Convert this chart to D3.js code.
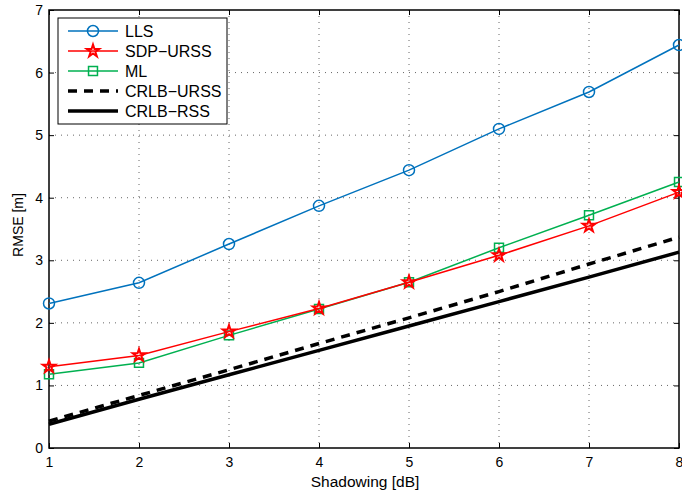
<!DOCTYPE html>
<html>
<head>
<meta charset="utf-8">
<script src="https://cdn.jsdelivr.net/npm/d3@7"></script>
<style>
    body { margin: 0; background: #fff; }
    svg { display: block; font-family: "Liberation Sans", Arial, sans-serif; }
    .grid line { stroke: #000; stroke-opacity: 0.6; stroke-dasharray: 1 5; }
</style>
</head>
<body>
<svg width="682" height="492"></svg>
<script>
    // dados
    var shadowing = [1, 2, 3, 4, 5, 6, 7, 8];
    var lls = [2.31, 2.64, 3.26, 3.87, 4.44, 5.10, 5.69, 6.44];
    var sdpUrss = [1.30, 1.48, 1.86, 2.23, 2.65, 3.08, 3.55, 4.09];
    var ml = [1.18, 1.36, 1.80, 2.22, 2.65, 3.20, 3.72, 4.25];
    var crlbUrss = [0.43, 0.84, 1.25, 1.67, 2.08, 2.50, 2.94, 3.37];
    var crlbRss = [0.38, 0.78, 1.17, 1.56, 1.95, 2.34, 2.73, 3.13];
    var yTicks = [0, 1, 2, 3, 4, 5, 6, 7];

    var series = [
        { name: "LLS", values: lls, color: "#0072bd", width: 1.5, dash: null, marker: "circle" },
        { name: "SDP\u2212URSS", values: sdpUrss, color: "#ff0000", width: 1.5, dash: null, marker: "star" },
        { name: "ML", values: ml, color: "#00b050", width: 1.5, dash: null, marker: "square" },
        { name: "CRLB\u2212URSS", values: crlbUrss, color: "#000", width: 3.5, dash: "9,7", marker: null },
        { name: "CRLB\u2212RSS", values: crlbRss, color: "#000", width: 3.5, dash: null, marker: null }
    ];

    var svg = d3.select("svg"),
        margin = { top: 10, right: 3, bottom: 44, left: 49 },
        width = 682 - margin.left - margin.right,
        height = 492 - margin.top - margin.bottom,
        g = svg.append("g").attr("transform", "translate(" + margin.left + "," + margin.top + ")");

    var x = d3.scaleLinear().domain([1, 8]).range([0, width]);
    var y = d3.scaleLinear().domain([0, 7]).range([height, 0]);

    // grade pontilhada
    var grid = g.append("g").attr("class", "grid");
    grid.selectAll(".gx").data(shadowing.slice(1, -1)).enter().append("line")
        .attr("x1", function (d) { return x(d); }).attr("x2", function (d) { return x(d); })
        .attr("y1", 0).attr("y2", height);
    grid.selectAll(".gy").data(yTicks.slice(1, -1)).enter().append("line")
        .attr("y1", function (d) { return y(d); }).attr("y2", function (d) { return y(d); })
        .attr("x1", 0).attr("x2", width);

    // eixos com marcas para dentro
    function estilo(sel) {
        sel.select(".domain").remove();
        sel.selectAll("text").style("font-size", "14px").attr("fill", "#000");
        sel.selectAll("line").attr("stroke", "#000");
    }
    g.append("g").attr("transform", "translate(0," + height + ")")
        .call(d3.axisBottom(x).tickValues(shadowing).tickFormat(d3.format("d")).tickSizeInner(-5).tickPadding(9))
        .call(estilo);
    g.append("g")
        .call(d3.axisLeft(y).tickValues(yTicks).tickFormat(d3.format("d")).tickSizeInner(-5).tickPadding(6))
        .call(estilo);
    g.append("g")
        .call(d3.axisTop(x).tickValues(shadowing).tickFormat("").tickSizeInner(-5))
        .call(estilo);
    g.append("g").attr("transform", "translate(" + width + ",0)")
        .call(d3.axisRight(y).tickValues(yTicks).tickFormat("").tickSizeInner(-5))
        .call(estilo);

    g.append("rect").attr("width", width).attr("height", height)
        .attr("fill", "none").attr("stroke", "#000").attr("stroke-width", 1.5);

    var line = d3.line()
        .x(function (d, i) { return x(shadowing[i]); })
        .y(function (d) { return y(d); });

    var simbolos = {
        circle: d3.symbol().type(d3.symbolCircle).size(95),
        star: d3.symbol().type(d3.symbolStar).size(48),
        square: d3.symbol().type(d3.symbolSquare).size(80)
    };

    function desenhaMarcador(sel, s) {
        sel.append("path")
            .attr("d", simbolos[s.marker]())
            .attr("fill", "none")
            .attr("stroke", s.color)
            .attr("stroke-width", s.marker === "star" ? 2 : 1.5);
    }

    series.slice().reverse().forEach(function (s) {
        g.append("path").datum(s.values)
            .attr("d", line)
            .attr("fill", "none")
            .attr("stroke", s.color)
            .attr("stroke-width", s.width)
            .attr("stroke-dasharray", s.dash);
        if (s.marker) {
            g.selectAll(null).data(s.values).enter().append("g")
                .attr("transform", function (d, i) { return "translate(" + x(shadowing[i]) + "," + y(d) + ")"; })
                .each(function () { desenhaMarcador(d3.select(this), s); });
        }
    });

    // legenda
    var leg = g.append("g").attr("transform", "translate(9,8)");
    leg.append("rect").attr("width", 169).attr("height", 106)
        .attr("fill", "#fff").attr("stroke", "#000").attr("stroke-width", 1);
    series.forEach(function (s, i) {
        var row = leg.append("g").attr("transform", "translate(0," + (13 + i * 20) + ")");
        row.append("line").attr("x1", 10).attr("x2", 60)
            .attr("stroke", s.color).attr("stroke-width", s.width)
            .attr("stroke-dasharray", s.dash);
        if (s.marker) {
            var m = row.append("g").attr("transform", "translate(35,0)");
            desenhaMarcador(m, s);
        }
        row.append("text").attr("x", 67).attr("dy", "0.36em")
            .style("font-size", "16px").text(s.name);
    });

    svg.append("text")
        .attr("x", margin.left + width / 2 + 1).attr("y", 487)
        .attr("text-anchor", "middle").style("font-size", "15.5px")
        .text("Shadowing [dB]");
    svg.append("text")
        .attr("transform", "translate(23,225) rotate(-90)")
        .attr("text-anchor", "middle").style("font-size", "14px")
        .text("RMSE [m]");
</script>
</body>
</html>
